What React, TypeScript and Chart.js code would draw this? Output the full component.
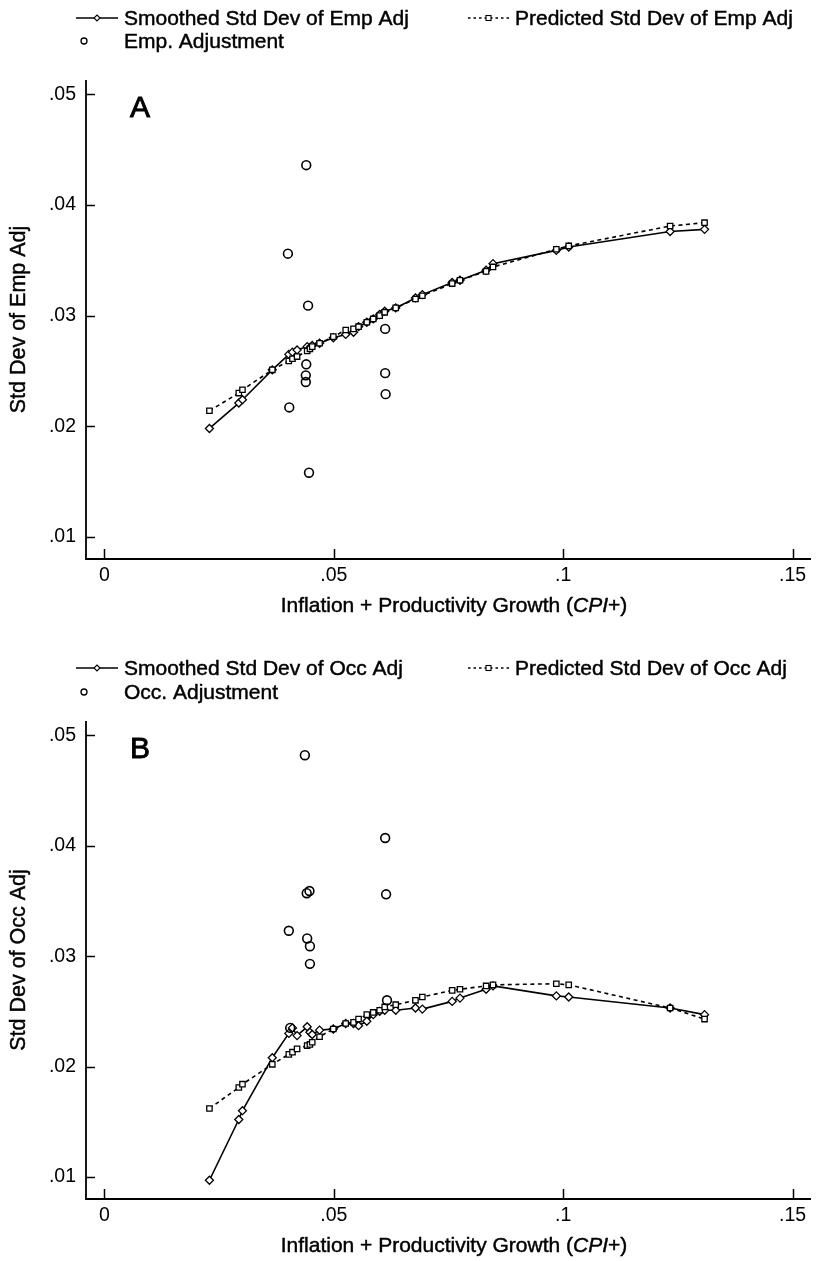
import { useEffect, useRef } from "react";
import { Chart, registerables } from "chart.js";

Chart.register(...registerables);

// ---------------- DATA ----------------
const cpiPlus = [
  0.0229, 0.0293, 0.0301, 0.0366, 0.0402, 0.041, 0.042, 0.0442, 0.0448, 0.0453,
  0.0469, 0.0499, 0.0526, 0.0543, 0.0554, 0.0572, 0.0586, 0.06, 0.0611, 0.0635,
  0.0678, 0.0693, 0.0758, 0.0775, 0.0832, 0.0847, 0.0985, 0.1012, 0.1233, 0.1308,
];

const empSmoothed = [
  0.0198, 0.0221, 0.0224, 0.0251, 0.0265, 0.0267, 0.0269, 0.0272, 0.0271, 0.0273,
  0.0275, 0.028, 0.0283, 0.0285, 0.029, 0.0294, 0.0297, 0.0301, 0.0304, 0.0307,
  0.0316, 0.0319, 0.033, 0.0332, 0.0341, 0.0347, 0.0359, 0.0362, 0.0376, 0.0378,
];

const empPredicted = [
  0.0214, 0.023, 0.0233, 0.0251, 0.0259, 0.0261, 0.0263, 0.0268, 0.027, 0.0272,
  0.0275, 0.0281, 0.0287, 0.0288, 0.029, 0.0294, 0.0297, 0.03, 0.0303, 0.0307,
  0.0315, 0.0318, 0.0329, 0.0332, 0.034, 0.0344, 0.036, 0.0363, 0.0381, 0.0384,
];

const empAdjX = [0.044, 0.04, 0.0444, 0.0612, 0.044, 0.0439, 0.0439, 0.0612, 0.0613, 0.0403, 0.0446];
const empAdjY = [0.0436, 0.0356, 0.0309, 0.0288, 0.0256, 0.0246, 0.024, 0.0248, 0.0229, 0.0217, 0.0158];

const occSmoothed = [
  0.0097, 0.0152, 0.016, 0.0208, 0.023, 0.0235, 0.0228, 0.0236, 0.0231, 0.0229,
  0.0233, 0.0234, 0.0239, 0.0239, 0.0237, 0.0241, 0.0247, 0.025, 0.0251, 0.0251,
  0.0253, 0.0252, 0.0259, 0.0262, 0.027, 0.0273, 0.0264, 0.0263, 0.0253, 0.0247,
];

const occPredicted = [
  0.0162, 0.0181, 0.0184, 0.0202, 0.0211, 0.0213, 0.0216, 0.0219, 0.022, 0.0222,
  0.0227, 0.0234, 0.0239, 0.024, 0.0243, 0.0247, 0.0249, 0.0251, 0.0254, 0.0256,
  0.026, 0.0263, 0.0269, 0.027, 0.0273, 0.0274, 0.0275, 0.0274, 0.0253, 0.0243,
];

const occAdjX = [0.0437, 0.0612, 0.0441, 0.0447, 0.0614, 0.0402, 0.0442, 0.0448, 0.0448, 0.0616, 0.0405];
const occAdjY = [0.0482, 0.0407, 0.0357, 0.0359, 0.0356, 0.0323, 0.0316, 0.0309, 0.0293, 0.026, 0.0235];

const xTickValues = [0, 0.05, 0.1, 0.15];
const xTickLabels = ["0", ".05", ".1", ".15"];
const yTickValues = [0.01, 0.02, 0.03, 0.04, 0.05];
const yTickLabels = [".01", ".02", ".03", ".04", ".05"];

const FONT = "'Liberation Sans', Arial, Helvetica, sans-serif";

type Panel = {
  letter: string;
  smoothLabel: string;
  predLabel: string;
  adjLabel: string;
  yTitle: string;
  smoothed: number[];
  predicted: number[];
  adjX: number[];
  adjY: number[];
  height: number;
  plotBottom: number;
  legendRow1: number;
  legendRow2: number;
};

const panels: Panel[] = [
  {
    letter: "A",
    smoothLabel: "Smoothed Std Dev of Emp Adj",
    predLabel: "Predicted Std Dev of Emp Adj",
    adjLabel: "Emp. Adjustment",
    yTitle: "Std Dev of Emp Adj",
    smoothed: empSmoothed,
    predicted: empPredicted,
    adjX: empAdjX,
    adjY: empAdjY,
    height: 641,
    plotBottom: 559,
    legendRow1: 18,
    legendRow2: 41,
  },
  {
    letter: "B",
    smoothLabel: "Smoothed Std Dev of Occ Adj",
    predLabel: "Predicted Std Dev of Occ Adj",
    adjLabel: "Occ. Adjustment",
    yTitle: "Std Dev of Occ Adj",
    smoothed: occSmoothed,
    predicted: occPredicted,
    adjX: occAdjX,
    adjY: occAdjY,
    height: 620,
    plotBottom: 558,
    legendRow1: 27,
    legendRow2: 51,
  },
];

function boldText(ctx: CanvasRenderingContext2D, t: string, x: number, y: number) {
  ctx.fillText(t, x, y);
  ctx.lineWidth = 0.45;
  ctx.strokeText(t, x, y);
}

function makeDecor(p: Panel) {
  return {
    id: "decor" + p.letter,
    afterDraw(chart: any) {
      const ctx = chart.ctx as CanvasRenderingContext2D;
      const a = chart.chartArea;
      const xs = chart.scales.x;
      const ys = chart.scales.y;
      ctx.save();
      ctx.strokeStyle = "#000";
      ctx.fillStyle = "#000";
      // axes
      ctx.lineWidth = 1.8;
      ctx.beginPath();
      ctx.moveTo(a.left, a.top);
      ctx.lineTo(a.left, a.bottom);
      ctx.lineTo(a.right, a.bottom);
      ctx.stroke();
      // inward ticks
      ctx.lineWidth = 1.5;
      ctx.beginPath();
      yTickValues.forEach((v) => {
        const y = Math.round(ys.getPixelForValue(v)) + 0.5;
        ctx.moveTo(a.left, y);
        ctx.lineTo(a.left + 9, y);
      });
      xTickValues.forEach((v) => {
        const x = Math.round(xs.getPixelForValue(v)) + 0.5;
        ctx.moveTo(x, a.bottom);
        ctx.lineTo(x, a.bottom - 10);
      });
      ctx.stroke();

      // panel letter
      ctx.font = `30px ${FONT}`;
      ctx.textAlign = "left";
      ctx.textBaseline = "middle";
      ctx.fillText(p.letter, a.left + 44, a.top + 29);
      ctx.lineWidth = 0.9;
      ctx.strokeText(p.letter, a.left + 44, a.top + 29);

      // legend
      ctx.font = `21px ${FONT}`;
      ctx.textBaseline = "middle";
      const r1 = p.legendRow1;
      const r2 = p.legendRow2;
      // smoothed
      ctx.lineWidth = 1.5;
      ctx.setLineDash([]);
      ctx.beginPath();
      ctx.moveTo(76, r1);
      ctx.lineTo(118, r1);
      ctx.stroke();
      ctx.fillStyle = "#fff";
      ctx.beginPath();
      ctx.moveTo(97, r1 - 3);
      ctx.lineTo(100, r1);
      ctx.lineTo(97, r1 + 3);
      ctx.lineTo(94, r1);
      ctx.closePath();
      ctx.fill();
      ctx.lineWidth = 1.1;
      ctx.stroke();
      ctx.fillStyle = "#000";
      boldText(ctx, p.smoothLabel, 124, r1 + 1);
      // predicted
      ctx.lineWidth = 1.4;
      ctx.setLineDash([2.5, 3]);
      ctx.beginPath();
      ctx.moveTo(468, r1);
      ctx.lineTo(510, r1);
      ctx.stroke();
      ctx.setLineDash([]);
      ctx.fillStyle = "#fff";
      ctx.fillRect(486, r1 - 2.5, 5, 5);
      ctx.lineWidth = 1.1;
      ctx.strokeRect(486, r1 - 2.5, 5, 5);
      ctx.fillStyle = "#000";
      boldText(ctx, p.predLabel, 515, r1 + 1);
      // adjustment circle
      ctx.beginPath();
      ctx.arc(84, r2, 3, 0, Math.PI * 2);
      ctx.lineWidth = 1.3;
      ctx.stroke();
      boldText(ctx, p.adjLabel, 124, r2 + 1);

      // y title
      ctx.save();
      ctx.translate(19, (a.top + a.bottom) / 2);
      ctx.rotate(-Math.PI / 2);
      ctx.textAlign = "center";
      ctx.textBaseline = "middle";
      ctx.font = `21.5px ${FONT}`;
      boldText(ctx, p.yTitle, 0, 0);
      ctx.restore();

      // x title with italic part
      const parts = [
        { t: "Inflation + Productivity Growth (", f: `21px ${FONT}` },
        { t: "CPI", f: `italic 21px ${FONT}` },
        { t: "+)", f: `21px ${FONT}` },
      ];
      let total = 0;
      parts.forEach((q) => {
        ctx.font = q.f;
        total += ctx.measureText(q.t).width;
      });
      let x = 454 - total / 2;
      const ty = a.bottom + 47;
      ctx.textAlign = "left";
      ctx.textBaseline = "middle";
      parts.forEach((q) => {
        ctx.font = q.f;
        boldText(ctx, q.t, x, ty);
        x += ctx.measureText(q.t).width;
      });
      ctx.restore();
    },
  };
}

function PanelChart({ p }: { p: Panel }) {
  const ref = useRef<HTMLCanvasElement | null>(null);
  useEffect(() => {
    if (!ref.current) return;
    const chart = new Chart(ref.current, {
      type: "scatter",
      data: {
        datasets: [
          {
            label: p.adjLabel,
            data: p.adjX.map((x, i) => ({ x, y: p.adjY[i] })),
            showLine: false,
            pointStyle: "circle",
            pointRadius: 4.4,
            borderColor: "#000",
            backgroundColor: "rgba(0,0,0,0)",
            pointBorderWidth: 1.6,
          },
          {
            label: p.predLabel,
            data: cpiPlus.map((x, i) => ({ x, y: p.predicted[i] })),
            showLine: true,
            borderColor: "#000",
            borderWidth: 1.6,
            borderDash: [4, 3.5],
            pointStyle: "rect",
            pointRadius: 3.8,
            pointBorderWidth: 1.3,
            pointBorderColor: "#000",
            pointBackgroundColor: "#fff",
            tension: 0,
          },
          {
            label: p.smoothLabel,
            data: cpiPlus.map((x, i) => ({ x, y: p.smoothed[i] })),
            showLine: true,
            borderColor: "#000",
            borderWidth: 1.6,
            pointStyle: "rectRot",
            pointRadius: 4,
            pointBorderWidth: 1.3,
            pointBorderColor: "#000",
            pointBackgroundColor: "#fff",
            tension: 0,
          },
        ],
      },
      options: {
        animation: false,
        responsive: false,
        devicePixelRatio: 1,
        layout: { padding: { top: 80, right: 6, left: 0, bottom: 0 } },
        plugins: { legend: { display: false }, tooltip: { enabled: false } },
        scales: {
          x: {
            type: "linear",
            min: -0.004,
            max: 0.154,
            grid: { display: false, drawTicks: false },
            border: { display: false },
            afterBuildTicks: (s: any) => {
              s.ticks = xTickValues.map((v) => ({ value: v }));
            },
            afterFit: (s: any) => {
              s.height = p.height - p.plotBottom;
            },
            ticks: {
              autoSkip: false,
              maxRotation: 0,
              padding: 5,
              color: "#000",
              font: { family: FONT, size: 19.5 },
              callback: (_v: any, i: number) => xTickLabels[i],
            },
          },
          y: {
            type: "linear",
            min: 0.008,
            max: 0.0513,
            grid: { display: false, drawTicks: false },
            border: { display: false },
            afterBuildTicks: (s: any) => {
              s.ticks = yTickValues.map((v) => ({ value: v }));
            },
            afterFit: (s: any) => {
              s.width = 86;
            },
            ticks: {
              autoSkip: false,
              padding: 10,
              color: "#000",
              font: { family: FONT, size: 19.5 },
              callback: (_v: any, i: number) => yTickLabels[i],
            },
          },
        },
      },
      plugins: [makeDecor(p)],
    } as any);
    return () => chart.destroy();
  }, [p]);
  return <canvas ref={ref} width={817} height={p.height} style={{ display: "block", width: 817, height: p.height }} />;
}

export default function App() {
  return (
    <div style={{ position: "absolute", left: 0, top: 0, width: 817, height: 1261, background: "#fff" }}>
      {panels.map((p) => (
        <PanelChart key={p.letter} p={p} />
      ))}
    </div>
  );
}
